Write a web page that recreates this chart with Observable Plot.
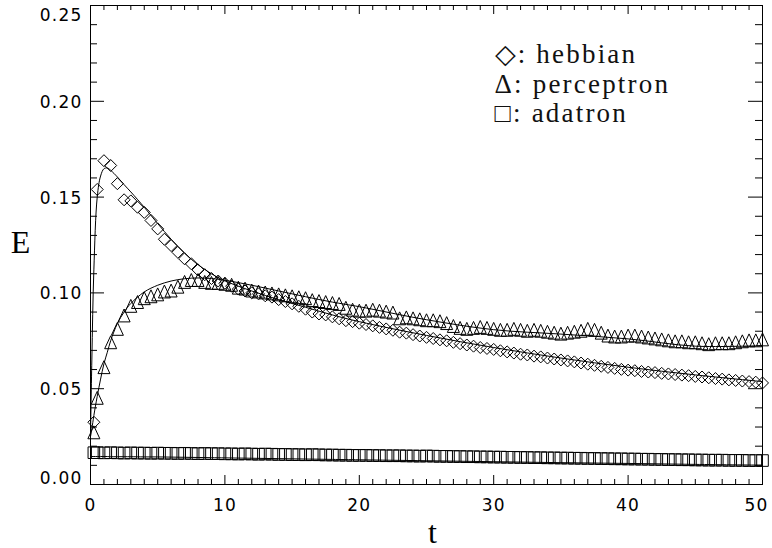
<!DOCTYPE html>
<html><head><meta charset="utf-8">
<script src="https://cdn.jsdelivr.net/npm/d3@7"></script>
<script src="https://cdn.jsdelivr.net/npm/@observablehq/plot@0.6"></script>
<style>
html,body{margin:0;padding:0;background:#fff;}
#chart{width:772px;height:548px;}
</style>
</head><body><div id="chart"></div>
<script>
// sample times of the simulation points
const tSample = [0.25,0.5,1,1.5,2,2.5,3,3.5,4,4.5,5,5.5,6,6.5,7,7.5,8,8.5,9,9.5,10,
  10.5,11,11.5,12,12.5,13,13.5,14,14.5,15,15.5,16,16.5,17,17.5,18,18.5,19,19.5,20,
  20.5,21,21.5,22,22.5,23,23.5,24,24.5,25,25.5,26,26.5,27,27.5,28,28.5,29,29.5,30,
  30.5,31,31.5,32,32.5,33,33.5,34,34.5,35,35.5,36,36.5,37,37.5,38,38.5,39,39.5,40,
  40.5,41,41.5,42,42.5,43,43.5,44,44.5,45,45.5,46,46.5,47,47.5,48,48.5,49,49.5,50];

const hebbian = [0.0325,0.154,0.169,0.1665,0.157,0.1486,0.148,0.1447,0.142,0.1378,0.1334,0.128,0.1247,0.1212,0.1178,0.1152,0.112,0.1095,0.1075,0.1062,0.105,
  0.1035,0.102,0.101,0.100,0.0995,0.0985,0.0978,0.0965,0.0955,0.0943,
  0.093,0.0915,0.090,0.089,0.0885,0.0875,0.0865,0.0855,0.085,0.0842,
  0.0835,0.0828,0.082,0.0812,0.0805,0.0795,0.079,0.0782,0.0775,0.0768,
  0.0762,0.0755,0.075,0.0742,0.0735,0.0728,0.0722,0.0715,0.071,0.0705,
  0.0698,0.0692,0.0686,0.068,0.0676,0.067,0.0666,0.066,0.0655,0.065,
  0.0645,0.064,0.0634,0.0628,0.0622,0.0617,0.0611,0.0606,0.0601,0.0597,
  0.0594,0.059,0.0587,0.0584,0.058,0.0577,0.0574,0.0571,0.0568,0.0564,
  0.0561,0.0557,0.0553,0.055,0.0546,0.0543,0.054,0.0537,0.0534,0.053];

const perceptron = [0.027,0.045,0.061,0.074,0.081,0.088,0.093,0.095,0.097,0.098,0.099,0.1005,0.101,0.103,0.1055,0.1065,0.1065,0.1055,0.105,0.105,0.1045,
  0.104,0.1025,0.102,0.101,0.1005,0.100,0.0995,0.099,0.0985,0.098,
  0.0975,0.097,0.096,0.0955,0.095,0.0945,0.094,0.092,0.091,0.0905,
  0.0905,0.091,0.0905,0.090,0.0895,0.0865,0.087,0.0865,0.086,0.0855,
  0.0855,0.085,0.084,0.0825,0.0815,0.081,0.0815,0.082,0.0815,0.081,
  0.0805,0.0805,0.081,0.0805,0.080,0.0805,0.080,0.0795,0.079,0.0785,
  0.079,0.0795,0.080,0.081,0.0805,0.079,0.0775,0.077,0.077,0.0775,
  0.0775,0.077,0.0765,0.076,0.0755,0.075,0.0745,0.0745,0.074,0.074,
  0.0735,0.073,0.0735,0.0735,0.0735,0.074,0.0745,0.075,0.075,0.0755];

const adatron = [0.0166,0.0166,0.0165,0.0166,0.0165,0.0164,0.0165,0.0164,0.0164,0.0163,0.0164,0.0163,0.0163,0.0162,0.0163,0.0162,0.0161,0.0162,0.0161,0.0161,0.0160,
  0.0160,0.0159,0.0160,0.0159,0.0158,0.0159,0.0158,0.0157,0.0157,0.0156,
  0.0156,0.0155,0.0156,0.0155,0.0154,0.0154,0.0153,0.0153,0.0152,0.0152,
  0.0152,0.0151,0.0151,0.0150,0.0150,0.0150,0.0149,0.0149,0.0148,0.0149,
  0.0148,0.0147,0.0147,0.0146,0.0146,0.0145,0.0145,0.0144,0.0144,0.0143,
  0.0143,0.0142,0.0142,0.0141,0.0141,0.0140,0.0140,0.0139,0.0139,0.0138,
  0.0138,0.0137,0.0137,0.0136,0.0136,0.0135,0.0135,0.0134,0.0134,0.0133,
  0.0133,0.0132,0.0132,0.0131,0.0131,0.0130,0.0130,0.0129,0.0129,0.0128,
  0.0128,0.0127,0.0127,0.0127,0.0126,0.0126,0.0126,0.0125,0.0125,0.0125];

// theory curves (solid lines)
const tTheory = [0,0.1,0.25,0.5,0.75,1,1.25,1.5,2,2.5,3,4,5,6,7,8,9,10,12,14,16,18,20,25,30,35,40,45,50];
const hebbianTheory = [0.025,0.065,0.112,0.150,0.161,0.1648,0.1652,0.1640,0.1605,0.1565,0.1527,0.1447,0.1362,0.1280,0.1207,0.1147,0.1100,0.1063,0.1010,0.0965,0.0925,0.0885,0.0850,0.0778,0.0715,0.0660,0.0612,0.0572,0.0537];
const perceptronTheory = [0.025,0.029,0.036,0.046,0.055,0.063,0.069,0.075,0.084,0.090,0.0945,0.1005,0.1040,0.1062,0.1074,0.1078,0.1075,0.1066,0.1040,0.1010,0.0980,0.0952,0.0928,0.0860,0.0808,0.0785,0.0760,0.0722,0.0725];
const adatronTheory = [0.0146,0.0146,0.0146,0.0146,0.0146,0.0146,0.0146,0.0145,0.0145,0.0145,0.0145,0.0144,0.0144,0.0143,0.0142,0.0141,0.0140,0.0139,0.0137,0.0135,0.0133,0.0131,0.0129,0.0124,0.0119,0.0114,0.0110,0.0105,0.0101];

const xMajor = [0,10,20,30,40,50];
const xLabelsMain = [0,10,20,30,40];
const xLabelLast = [50];
const xMinor = [1,2,3,4,5,6,7,8,9,11,12,13,14,15,16,17,18,19,21,22,23,24,25,26,27,28,29,31,32,33,34,35,36,37,38,39,41,42,43,44,45,46,47,48,49];
const yMajor = [0,0.05,0.10,0.15,0.20,0.25];
const yMinor = [0.01,0.02,0.03,0.04,0.06,0.07,0.08,0.09,0.11,0.12,0.13,0.14,0.16,0.17,0.18,0.19,0.21,0.22,0.23,0.24];
const yLabelsInner = [0.05,0.10,0.15,0.20];
const yLabelBottom = [0];
const yLabelTop = [0.25];
const legendText = ["\u25C7: hebbian\n\u0394: perceptron\n\u25A1: adatron"];
const xTitle = "t", yTitle = "E";

// layout
const W = 772, H = 548, mL = 90, mR = 10, mT = 5, mB = 64;
const pw = W - mL - mR, ph = H - mT - mB;

const symDiamond = {draw(c, s){const r = Math.sqrt(s/Math.PI); c.moveTo(0,-r); c.lineTo(r,0); c.lineTo(0,r); c.lineTo(-r,0); c.closePath();}};
const symTriangle = {draw(c, s){const r = Math.sqrt(s/Math.PI); c.moveTo(0,-r*1.15); c.lineTo(r,r); c.lineTo(-r,r); c.closePath();}};
const symSquare = {draw(c, s){const r = Math.sqrt(s/Math.PI); c.rect(-r,-r,2*r,2*r);}};

const pts = (ys) => tSample.map((t,i) => ({t, e: ys[i]}));
const th = (ys) => tTheory.map((t,i) => ({t, e: ys[i]}));

const fmt = d3.format(".2f");
const lab = {fontSize: 17, fill: "black"};

const chart = Plot.plot({
  width: W, height: H,
  marginLeft: mL, marginRight: mR, marginTop: mT, marginBottom: mB,
  style: {fontFamily: "'DejaVu Sans', sans-serif", background: "white", color: "black"},
  x: {domain: [0, 50], label: null},
  y: {domain: [0, 0.25], label: null},
  marks: [
    Plot.line(th(hebbianTheory), {x: "t", y: "e", stroke: "black", strokeWidth: 1, curve: "catmull-rom"}),
    Plot.line(th(perceptronTheory), {x: "t", y: "e", stroke: "black", strokeWidth: 1, curve: "catmull-rom"}),
    Plot.line(th(adatronTheory), {x: "t", y: "e", stroke: "black", strokeWidth: 1, curve: "catmull-rom"}),
    Plot.dot(pts(adatron), {x: "t", y: "e", r: 5.8, symbol: symSquare, stroke: "black", fill: "none", strokeWidth: 1}),
    Plot.dot(pts(perceptron), {x: "t", y: "e", r: 6, symbol: symTriangle, stroke: "black", fill: "none", strokeWidth: 1}),
    Plot.dot(pts(hebbian), {x: "t", y: "e", r: 6, symbol: symDiamond, stroke: "black", fill: "none", strokeWidth: 1}),
    // inward ticks on all four sides
    Plot.tickY(yMajor, {y: d => d, insetRight: pw - 14, stroke: "black"}),
    Plot.tickY(yMinor, {y: d => d, insetRight: pw - 7, stroke: "black"}),
    Plot.tickY(yMajor, {y: d => d, insetLeft: pw - 14, stroke: "black"}),
    Plot.tickY(yMinor, {y: d => d, insetLeft: pw - 7, stroke: "black"}),
    Plot.tickX(xMajor, {x: d => d, insetTop: ph - 9, stroke: "black"}),
    Plot.tickX(xMinor, {x: d => d, insetTop: ph - 5, stroke: "black"}),
    Plot.tickX(xMajor, {x: d => d, insetBottom: ph - 9, stroke: "black"}),
    Plot.tickX(xMinor, {x: d => d, insetBottom: ph - 5, stroke: "black"}),
    Plot.frame({stroke: "black", strokeWidth: 1}),
    // tick labels
    Plot.axisX(xLabelsMain, {tickSize: 0, tickPadding: 14, label: null, tickFormat: d => String(d), ...lab}),
    Plot.axisX(xLabelLast, {tickSize: 0, tickPadding: 14, label: null, tickFormat: d => String(d), dx: -6, ...lab}),
    Plot.axisY(yLabelsInner, {tickSize: 0, tickPadding: 8, label: null, tickFormat: fmt, dy: 1, ...lab}),
    Plot.axisY(yLabelBottom, {tickSize: 0, tickPadding: 8, label: null, tickFormat: fmt, dy: -6, ...lab}),
    Plot.axisY(yLabelTop, {tickSize: 0, tickPadding: 8, label: null, tickFormat: fmt, dy: 10, ...lab}),
    // axis titles
    Plot.text([yTitle], {frameAnchor: "left", dx: -70, dy: -2, text: d => d, fontSize: 32, fontFamily: "'Liberation Serif', serif", fill: "black", textAnchor: "middle"}),
    Plot.text([xTitle], {frameAnchor: "bottom", dx: 6, dy: 58, text: d => d, fontSize: 32, fontFamily: "'Liberation Serif', serif", fill: "black", textAnchor: "middle", lineAnchor: "bottom"}),
    // legend
    Plot.text(legendText, {frameAnchor: "top-left", dx: 404, dy: 37, text: d => d, fontSize: 27, lineHeight: 1.09, lineAnchor: "top", textAnchor: "start", fontFamily: "'Liberation Serif', serif", fill: "#111"})
  ]
});
// widen lettering like the original's stroke font
d3.select(chart).selectAll("text").filter(function() { return this.textContent.includes("hebbian"); })
  .style("letter-spacing", "2.2px");
d3.select(chart).selectAll("text").filter(function() { return /^[0-9.]+$/.test(this.textContent); })
  .style("letter-spacing", "1.2px");
document.getElementById("chart").appendChild(chart);
</script>
</body></html>
